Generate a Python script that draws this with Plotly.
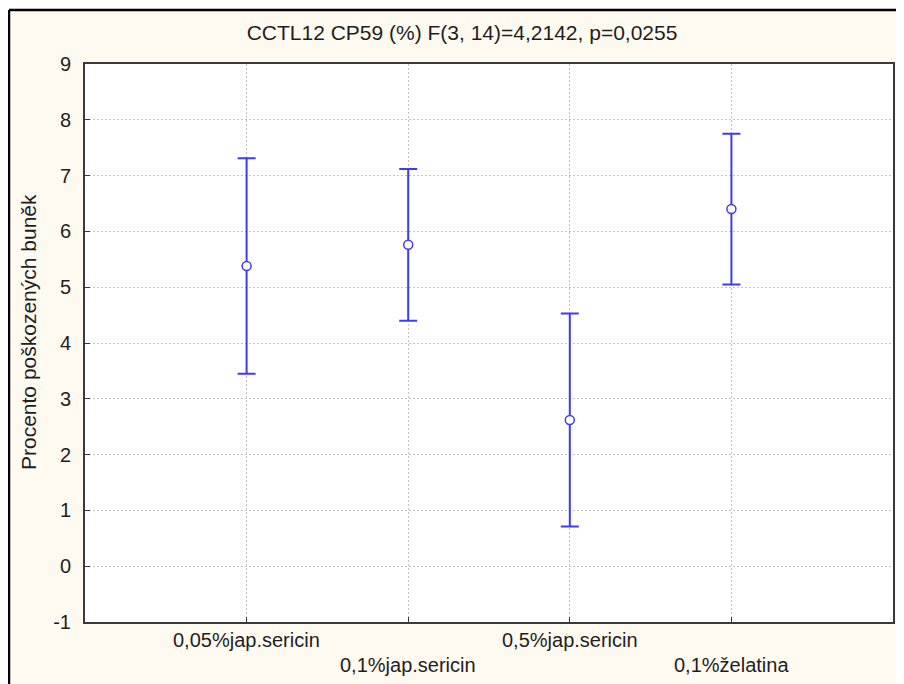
import plotly.graph_objects as go

categories = ["0,05%jap.sericin", "0,1%jap.sericin", "0,5%jap.sericin", "0,1%želatina"]
means = [5.38, 5.76, 2.62, 6.40]
errors = [1.93, 1.36, 1.91, 1.35]
y_ticks = [-1, 0, 1, 2, 3, 4, 5, 6, 7, 8, 9]
y_tick_labels = ["-1", "0", "1", "2", "3", "4", "5", "6", "7", "8", "9"]
title_text = "CCTL12 CP59 (%) F(3, 14)=4,2142, p=0,0255"
y_title = "Procento poškozených buněk"

BLUE = "#3C3CF5"
FONT = "Liberation Sans, Arial, sans-serif"
TXT = "#1E1E1E"
FS = 20

# the page body adds an 8px offset; margins are chosen to compensate
L, T, R, B = 77, 56, 19, 70
W, H = 904, 684
PW = W - L - R
PH = H - T - B

fig = go.Figure()
fig.add_trace(go.Scatter(
    x=categories, y=means, mode="markers",
    marker=dict(symbol="circle", size=9, color="white",
                line=dict(color=BLUE, width=1.5)),
    error_y=dict(type="data", array=errors, visible=True,
                 color=BLUE, thickness=2, width=9),
    showlegend=False,
))

for i, c in enumerate(categories):
    fig.add_annotation(x=c, y=0, xref="x", yref="paper", text=c,
                       showarrow=False, yanchor="middle",
                       yshift=-18 if i % 2 == 0 else -43,
                       font=dict(family=FONT, size=FS, color=TXT))

fig.add_annotation(x=(20 - L) / PW, y=(PH - (324 - T)) / PH, xref="paper", yref="paper",
                   text=y_title, textangle=-90, showarrow=False,
                   xanchor="center", yanchor="middle",
                   font=dict(family=FONT, size=21, color=TXT))

# outer border (top and left)
fig.add_shape(type="line", xref="paper", yref="paper",
              x0=(1 - L) / PW, x1=1.1, y0=1 + (T - 2) / PH, y1=1 + (T - 2) / PH,
              line=dict(color="black", width=2.5))
fig.add_shape(type="line", xref="paper", yref="paper",
              x0=(1 - L) / PW, x1=(1 - L) / PW, y0=1 + (T - 2) / PH, y1=-0.2,
              line=dict(color="black", width=2.5))

fig.update_layout(
    width=W, height=H,
    margin=dict(l=L, r=R, t=T, b=B),
    paper_bgcolor="#FFFAF0", plot_bgcolor="white",
    font=dict(family=FONT, size=FS, color=TXT),
    title=dict(text=title_text, x=454 / W, xref="container", xanchor="center",
               y=1 - 25 / H, yref="container", yanchor="middle",
               font=dict(family=FONT, size=21, color=TXT)),
)
fig.update_xaxes(type="category", range=[-1, 4], showticklabels=False,
                 showgrid=True, gridcolor="#C4C4C4", griddash="2px,2px", gridwidth=1,
                 showline=True, mirror=True, linecolor="#3A3A3A", linewidth=2,
                 ticks="inside", ticklen=5, tickcolor="#3A3A3A", zeroline=False)
fig.update_yaxes(range=[-1, 9], tickvals=y_ticks, ticktext=y_tick_labels,
                 showgrid=True, gridcolor="#C4C4C4", griddash="2px,2px", gridwidth=1,
                 showline=True, mirror=True, linecolor="#3A3A3A", linewidth=2,
                 ticks="inside", ticklen=5, tickcolor="#3A3A3A", zeroline=False,
                 ticklabelstandoff=8, automargin=False,
                 tickfont=dict(family=FONT, size=FS, color=TXT))

fig.write_html("out.html")
